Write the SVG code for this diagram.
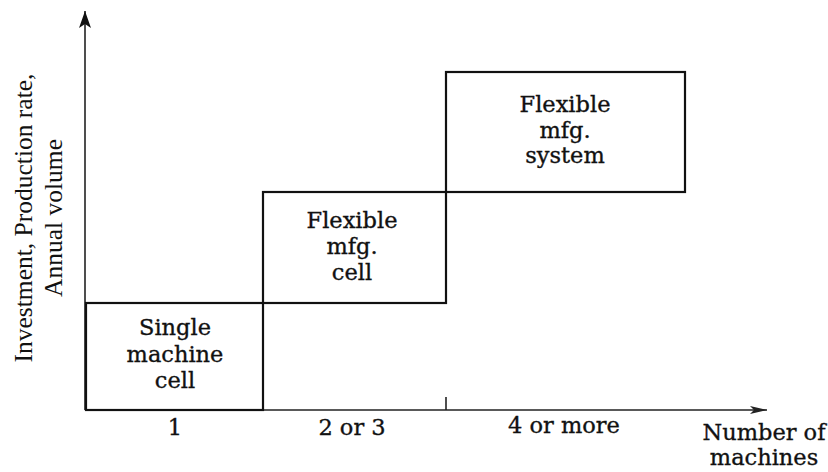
<svg xmlns="http://www.w3.org/2000/svg" width="828" height="472" viewBox="0 0 828 472">
<style>
.box{fill:none;stroke:#111;stroke-width:2.2}
.axis{stroke:#222;stroke-width:1.6;fill:none}
.t{font-family:"DejaVu Serif","Liberation Serif",serif;font-size:22.5px;fill:#111;stroke:#111;stroke-width:0.35;text-anchor:middle}
.ax{font-family:"DejaVu Serif","Liberation Serif",serif;font-size:22.5px;fill:#111;stroke:#111;stroke-width:0.35;text-anchor:middle}
.yl{font-family:"Liberation Serif","Times New Roman",serif;font-size:25.5px;fill:#111;text-anchor:middle}
</style>
<defs>
<marker id="arrY" markerWidth="18" markerHeight="14" refX="17" refY="7" orient="auto" markerUnits="userSpaceOnUse">
<path d="M0,1 L17,7 L0,13 L4,7 Z" fill="#111"/>
</marker>
<marker id="arrX" markerWidth="18" markerHeight="10" refX="17" refY="5" orient="auto" markerUnits="userSpaceOnUse">
<path d="M0,1 L17,5 L0,9 L4,5 Z" fill="#222"/>
</marker>
</defs>
<rect width="828" height="472" fill="#fff"/>
<g id="connectors">
<line class="axis" x1="85" y1="410" x2="85" y2="11" marker-end="url(#arrY)"/>
<line class="axis" x1="85" y1="410" x2="767" y2="410" marker-end="url(#arrX)"/>
<line class="axis" x1="446" y1="397" x2="446" y2="410"/>
</g>
<g id="box1">
<rect class="box" x="86" y="303" width="177" height="107"/>
<text class="t" x="175" y="335">Single</text>
<text class="t" x="175" y="362">machine</text>
<text class="t" x="175" y="388">cell</text>
</g>
<g id="box2">
<rect class="box" x="263" y="192" width="183" height="111"/>
<text class="t" x="352" y="228">Flexible</text>
<text class="t" x="352" y="254">mfg.</text>
<text class="t" x="352" y="280">cell</text>
</g>
<g id="box3">
<rect class="box" x="446" y="72" width="239" height="120"/>
<text class="t" x="565" y="112">Flexible</text>
<text class="t" x="565" y="138">mfg.</text>
<text class="t" x="565" y="163">system</text>
</g>
<g id="xlabels">
<text class="ax" x="175" y="435">1</text>
<text class="ax" x="352" y="435">2 or 3</text>
<text class="ax" x="564" y="433">4 or more</text>
<text class="ax" x="764" y="440">Number of</text>
<text class="ax" x="764" y="465">machines</text>
</g>
<g id="ylabel">
<text class="yl" transform="rotate(-90)" x="-218" y="32">Investment, Production rate,</text>
<text class="yl" transform="rotate(-90)" x="-218" y="62">Annual volume</text>
</g>
</svg>
